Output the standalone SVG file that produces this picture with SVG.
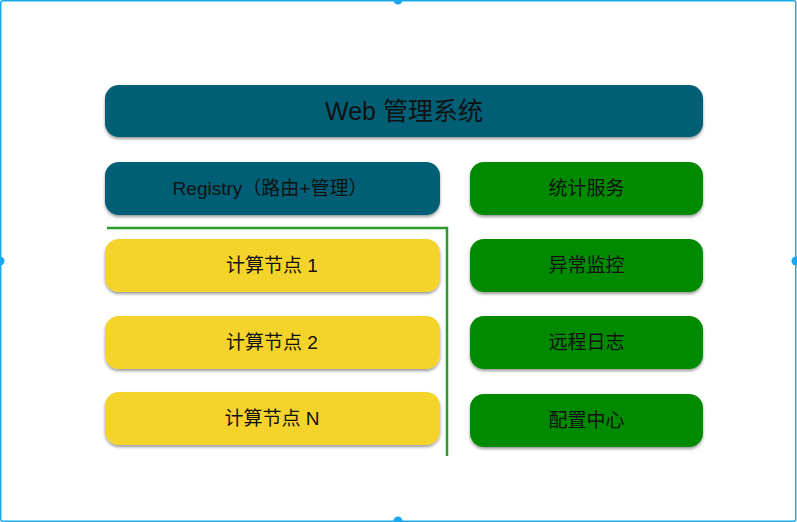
<svg xmlns="http://www.w3.org/2000/svg" width="797" height="522" viewBox="0 0 797 522">
  <style>
    .lbl { font-family: "Liberation Sans", "Noto Sans CJK SC", sans-serif; fill: #111; text-anchor: middle; dominant-baseline: central; }
    .teal { fill: #005E74; filter: url(#sh); }
    .yel { fill: #F4D42C; filter: url(#sh); }
    .grn { fill: #008A00; filter: url(#sh); }
    .sel { fill: none; stroke: #1AA8F0; stroke-width: 1.5; }
    .handle { fill: #1AA8F0; }
  </style>
  <defs>
    <filter id="sh" x="-5%" y="-20%" width="110%" height="150%">
      <feDropShadow dx="0" dy="2" stdDeviation="1.6" flood-color="#000" flood-opacity="0.4"/>
    </filter>
  </defs>
  <rect x="0" y="0" width="797" height="522" fill="#fff"/>
  <rect class="sel" x="0.75" y="0.75" width="795" height="520.5" rx="2"/>
  <circle class="handle" cx="398" cy="0" r="4.5"/>
  <circle class="handle" cx="0" cy="261" r="4.5"/>
  <circle class="handle" cx="796" cy="261" r="4.5"/>
  <circle class="handle" cx="398" cy="521" r="4.5"/>

  <g id="connectors">
    <polyline points="107,228 447,228 447,456" fill="none" stroke="#2E9A2E" stroke-width="2.5"/>
  </g>

  <g id="web">
    <rect class="teal" x="105" y="85" width="598" height="52" rx="14"/>
    <text class="lbl" x="404" y="111" font-size="25">Web 管理系统</text>
  </g>
  <g id="registry">
    <rect class="teal" x="105" y="162" width="335" height="53" rx="14"/>
    <text class="lbl" x="270" y="188.5" font-size="19">Registry（路由+管理）</text>
  </g>
  <g id="node1">
    <rect class="yel" x="105" y="239" width="335" height="53" rx="14"/>
    <text class="lbl" x="272" y="265.5" font-size="19">计算节点 1</text>
  </g>
  <g id="node2">
    <rect class="yel" x="105" y="316" width="335" height="53" rx="14"/>
    <text class="lbl" x="272" y="342.5" font-size="19">计算节点 2</text>
  </g>
  <g id="nodeN">
    <rect class="yel" x="105" y="392" width="335" height="53" rx="14"/>
    <text class="lbl" x="272" y="418.5" font-size="19">计算节点 N</text>
  </g>
  <g id="stats">
    <rect class="grn" x="470" y="162" width="233" height="53" rx="14"/>
    <text class="lbl" x="586.5" y="188.5" font-size="19">统计服务</text>
  </g>
  <g id="monitor">
    <rect class="grn" x="470" y="239" width="233" height="53" rx="14"/>
    <text class="lbl" x="586.5" y="265.5" font-size="19">异常监控</text>
  </g>
  <g id="log">
    <rect class="grn" x="470" y="316" width="233" height="53" rx="14"/>
    <text class="lbl" x="586.5" y="342.5" font-size="19">远程日志</text>
  </g>
  <g id="config">
    <rect class="grn" x="470" y="394" width="233" height="53" rx="14"/>
    <text class="lbl" x="586.5" y="420.5" font-size="19">配置中心</text>
  </g>
</svg>
